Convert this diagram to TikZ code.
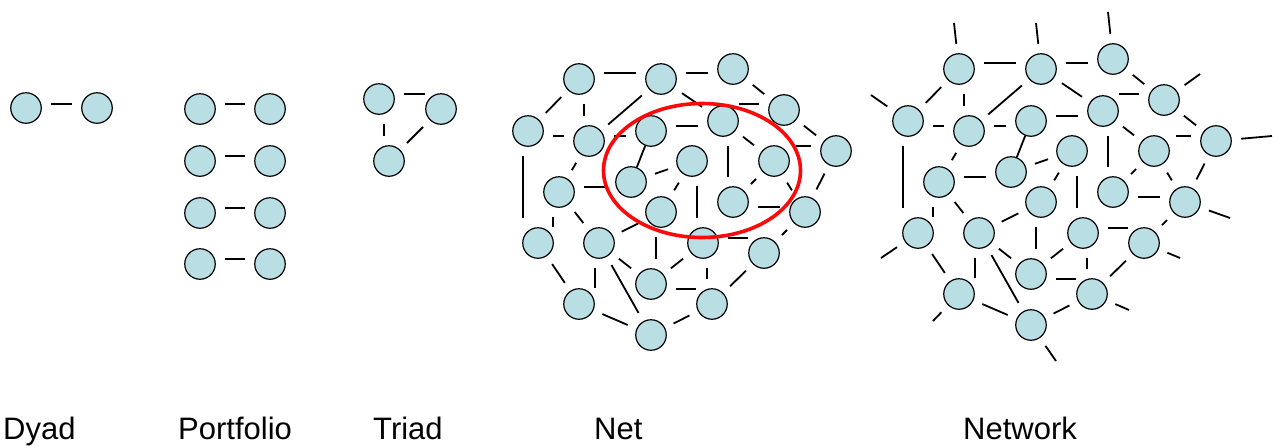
\documentclass[tikz,border=0pt]{standalone}
\usepackage{fontspec}
\setmainfont{Liberation Sans}
\usepackage{xcolor}
\usepackage{tikz}
\definecolor{nodeblue}{RGB}{185, 222, 228}
\definecolor{ringred}{RGB}{250, 10, 10}

% straight ties: level lines between two actors (shifts, then gaps at both ends)
\newcommand{\hlink}[6]{\draw[tie, shorten <= #5pt, shorten >= #6pt] ([yshift = #3pt]#1.east) -- ([yshift = #4pt]#2.west);}
\newcommand{\vlink}[6]{\draw[tie, shorten <= #5pt, shorten >= #6pt] ([xshift = #3pt]#1.south) -- ([xshift = #4pt]#2.north);}

% the graph that Net and Network share
\newcommand{\netgraph}{%
		\node (1) at (579,79) [actor] {};
		\node (2) at (661,79) [actor] {};
		\node (3) at (733,69) [actor] {};
		\node (4) at (784,110) [actor] {};
		\node (5) at (528,131) [actor] {};
		\node (6) at (589,141) [actor] {};
		\node (7) at (651,131) [actor] {};
		\node (8) at (723,121) [actor] {};
		\node (9) at (836,151) [actor] {};
		\node (10) at (692,161) [actor] {};
		\node (11) at (774,161) [actor] {};
		\node (12) at (631,182) [actor] {};
		\node (13) at (559,192) [actor] {};
		\node (14) at (661,212) [actor] {};
		\node (15) at (733,202) [actor] {};
		\node (16) at (805,212) [actor] {};
		\node (17) at (538,243) [actor] {};
		\node (18) at (599,243) [actor] {};
		\node (19) at (703,243) [actor] {};
		\node (20) at (764,253) [actor] {};
		\node (21) at (651,284) [actor] {};
		\node (22) at (579,304) [actor] {};
		\node (23) at (712,304) [actor] {};
		\node (24) at (651,335) [actor] {};
		\foreach \a/\b in {1/5, 2/6, 2/8, 3/4, 4/9, 6/13, 8/11, 9/16, 10/12, 10/14, 11/15,
				11/16, 13/18, 14/18, 16/20, 19/21, 17/22, 18/24, 18/21, 20/23, 22/24, 23/24}
			\draw[tie] (\a) -- (\b);
		\draw[tie, shorten <= 0pt, shorten >= 0pt] (7) -- (12);
		\foreach \a/\b/\s/\t/\g/\h in {1/2/5.7/5.7/9.5/9.5, 2/3/5.7/-4.3/9.5/9.5, 8/4/16.7/5.7/0/9.5,
				5/6/-5/5/9.5/9.5, 6/7/5/-5/9.5/9.5, 7/8/5/-5/9.5/9.5, 11/9/15/5/6/9.5,
				13/12/5.3/-4.7/9.5/9.5, 15/16/-4.7/5.3/9.5/9.5, 19/20/4.7/14.7/9.5/0,
				21/23/-5.3/14.7/9.5/0}
			{\hlink{\a}{\b}{\s}{\t}{\g}{\h}}
		\foreach \a/\b/\s/\t/\g/\h in {1/6/5/-5/9.5/9.5, 5/17/-5.3/-15.3/9.5/9.5, 8/15/5.3/-4.7/9.5/9.5,
				10/19/5.3/-5.7/9.5/9.5, 13/17/-5.7/15.3/9.5/0, 14/21/-5.3/4.7/9.5/9.5,
				19/23/4.3/-4.7/9.5/9.5, 18/22/-4/16/9.5/0}
			{\vlink{\a}{\b}{\s}{\t}{\g}{\h}}
}

\begin{document}
\begin{tikzpicture}[x = 1pt, y = -1pt,
		actor/.style = {circle, draw, fill = nodeblue, minimum size = 30.5pt, inner sep = 0pt, line width = 1.2pt},
		tie/.style = {line width = 1.8pt, shorten <= 9.5pt, shorten >= 9.5pt},
		loose/.style = {line width = 1.8pt, shorten <= 9.5pt},
		kind/.style = {anchor = base west, inner sep = 0pt, font = \fontsize{31}{36}\selectfont}]
		\useasboundingbox (0,0) rectangle (1273,445);

		% dyad
		\node (a) at (26,108) [actor] {};
		\node (b) at (97,108) [actor] {};
		\hlink{a}{b}{4}{4}{9.5}{9.5}

		% portfolio
		\node (p1) at (200,109) [actor] {};
		\node (q1) at (270,109) [actor] {};
		\node (p2) at (200,161) [actor] {};
		\node (q2) at (270,161) [actor] {};
		\node (p3) at (200,213) [actor] {};
		\node (q3) at (270,213) [actor] {};
		\node (p4) at (200,264) [actor] {};
		\node (q4) at (270,264) [actor] {};
		\hlink{p1}{q1}{5}{5}{9.5}{9.5}
		\hlink{p2}{q2}{5}{5}{9.5}{9.5}
		\hlink{p3}{q3}{5}{5}{9.5}{9.5}
		\hlink{p4}{q4}{5}{5}{9.5}{9.5}

		% triad
		\node (t1) at (379,99) [actor] {};
		\node (t2) at (441,109) [actor] {};
		\node (t3) at (389,161) [actor] {};
		\hlink{t1}{t2}{5}{15}{9.5}{0}
		\vlink{t1}{t3}{5}{-5}{9.5}{9.5}
		\draw[tie] (t3) -- (t2);

		% net
		\begin{scope}[name prefix = net-]
			\netgraph
		\end{scope}
		\draw[ringred, line width = 3.6pt] (702,170.5) ellipse [x radius = 98.5pt, y radius = 67pt];

		% network
		\begin{scope}[shift = {(380,-10)}, name prefix = nw-]
			\netgraph
		\end{scope}
		\coordinate (s1) at (954,23);
		\coordinate (s2) at (1036,23);
		\coordinate (s3) at (1108,12);
		\coordinate (s4) at (1200,74);
		\coordinate (s5) at (871,95);
		\coordinate (s9) at (1272,136);
		\coordinate (s16) at (1230,218);
		\coordinate (s20) at (1180,258);
		\coordinate (s17) at (881,258);
		\coordinate (s22) at (933,321);
		\coordinate (s23) at (1129,310);
		\coordinate (s24) at (1056,361);
		\draw[loose] (nw-1) -- (s1);
		\draw[loose] (nw-2) -- (s2);
		\draw[loose] (nw-3) -- (s3);
		\draw[loose] (nw-4) -- (s4);
		\draw[loose] (nw-5) -- (s5);
		\draw[loose] (nw-9) -- (s9);
		\draw[loose] (nw-16) -- (s16);
		\draw[loose] (nw-20) -- (s20);
		\draw[loose] (nw-17) -- (s17);
		\draw[loose] (nw-22) -- (s22);
		\draw[loose] (nw-23) -- (s23);
		\draw[loose] (nw-24) -- (s24);

		% names
		\node (dyad) at (3,439) [kind] {Dyad};
		\node (portfolio) at (178,439) [kind] {Portfolio};
		\node (triad) at (373,439) [kind] {Triad};
		\node (net) at (594,439) [kind] {Net};
		\node (network) at (963,439) [kind] {Network};
		\end{tikzpicture}
\end{document}
